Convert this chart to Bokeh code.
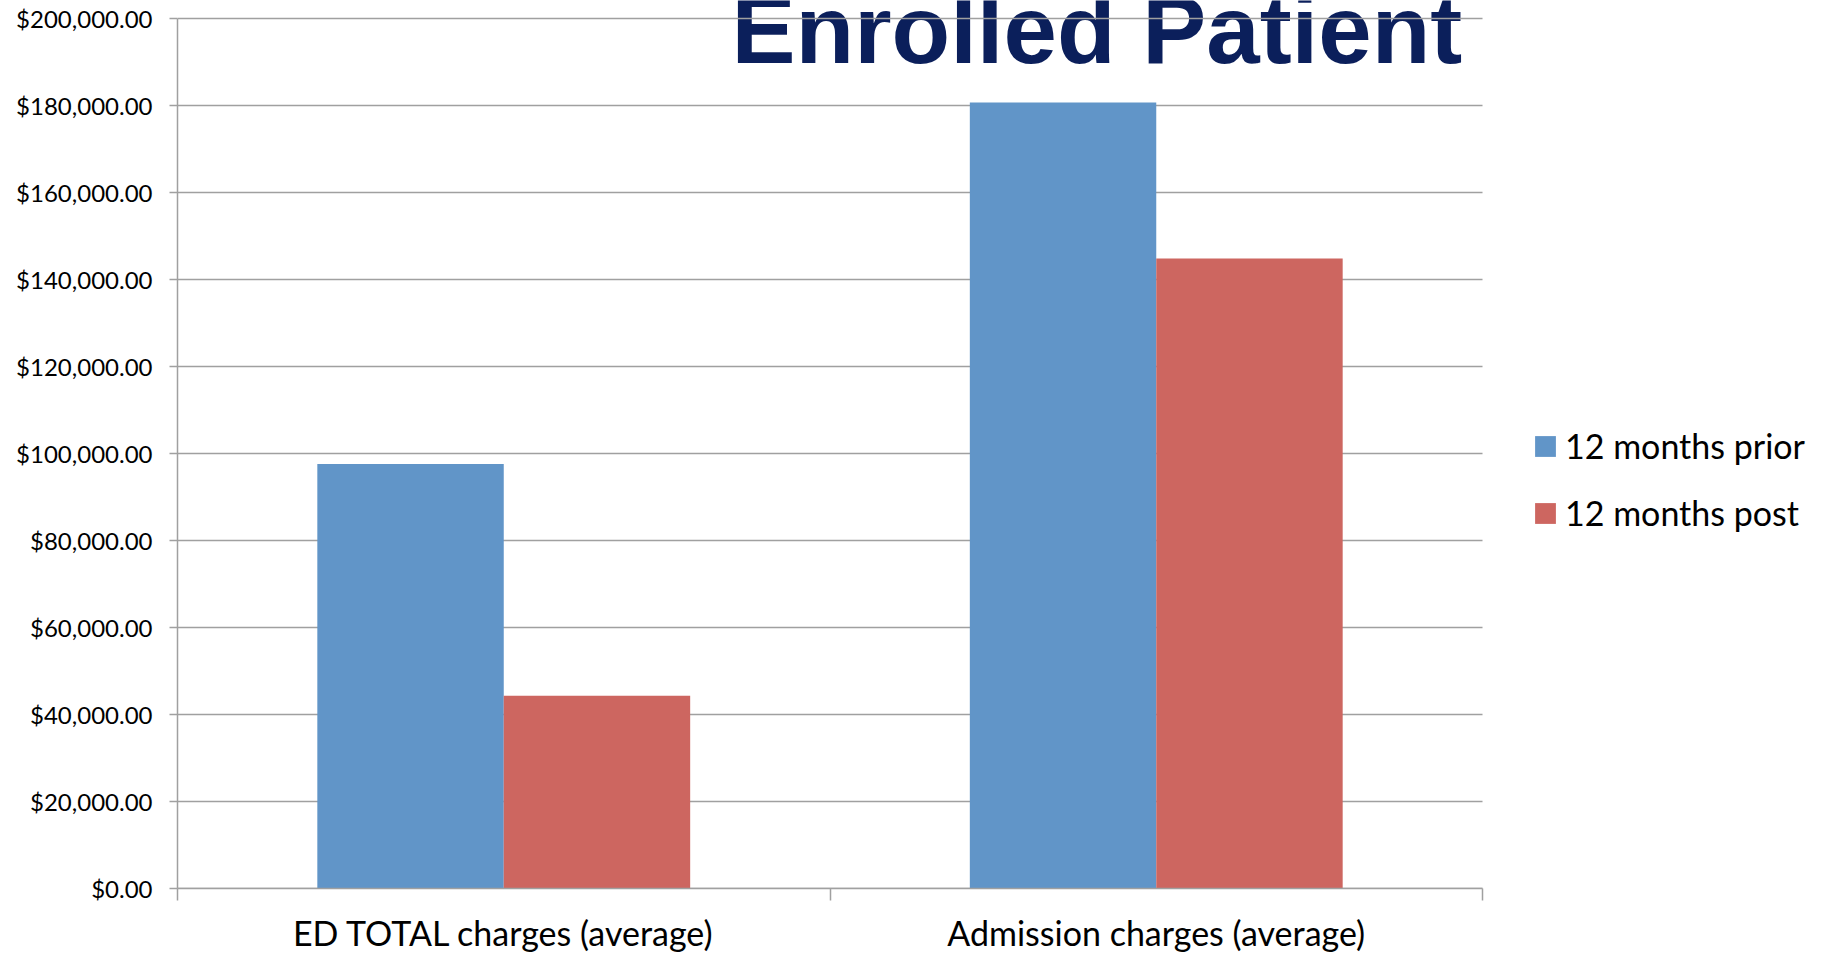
from bokeh.plotting import figure
from bokeh.models import (ColumnDataSource, FixedTicker, Label, Legend, LegendItem,
                          NumeralTickFormatter, Range1d)
from bokeh.transform import dodge
from bokeh.embed import file_html
from bokeh.resources import INLINE
import numpy as np

# --- data -------------------------------------------------------------
categories = ["ED TOTAL charges (average)", "Admission charges (average)"]
series_names = ["12 months prior", "12 months post"]
prior_values = [97600, 180700]
post_values = [44300, 144800]
y_tick_values = [0, 20000, 40000, 60000, 80000, 100000, 120000, 140000, 160000, 180000, 200000]
title_text = "Enrolled Patient"

# --- styling ----------------------------------------------------------
BLUE = "#6195C8"
RED = "#CD6660"
GRID = "#A0A0A0"
NAVY = "#0B1F5B"
FONT = "Lato"
BAR_W = 1 / 3.5  # two bars + 150% gap per category

W, H = 1829, 956
LEFT_BORDER = 177
BOTTOM_BORDER = 68
PLOT_W = 1305                        # width of the bar area
FRAME_W = W - LEFT_BORDER            # frame runs on to the right edge (room for the key)
FRAME_H = H - BOTTOM_BORDER          # frame runs up to the top edge of the canvas
HEAD_ROOM = 18                       # pixels between canvas top and the top gridline

n_cat = len(categories)
y_max = max(y_tick_values)
y_end = y_max * FRAME_H / (FRAME_H - HEAD_ROOM)
x_end = n_cat * FRAME_W / PLOT_W

x_center = np.arange(n_cat) + 0.5
src = ColumnDataSource(dict(x=x_center, prior=prior_values, post=post_values))

p = figure(width=W, height=H,
           x_range=Range1d(0, x_end),
           y_range=Range1d(min(y_tick_values), y_end),
           output_backend="svg", toolbar_location=None,
           min_border_left=LEFT_BORDER, min_border_right=0,
           min_border_top=0, min_border_bottom=BOTTOM_BORDER)
p.outline_line_color = None
p.background_fill_color = "white"
p.border_fill_color = "white"
p.xgrid.visible = False
p.ygrid.visible = False

# horizontal gridlines, limited to the bar area
p.segment(x0=0, x1=n_cat, y0=y_tick_values, y1=y_tick_values,
          line_color=GRID, line_width=1.5, level="underlay")

r_prior = p.vbar(x=dodge("x", -BAR_W / 2), top="prior", width=BAR_W, source=src,
                 fill_color=BLUE, line_color=None)
r_post = p.vbar(x=dodge("x", BAR_W / 2), top="post", width=BAR_W, source=src,
                fill_color=RED, line_color=None)

# y axis
p.yaxis.bounds = (min(y_tick_values), y_max)
p.yaxis.ticker = FixedTicker(ticks=y_tick_values, minor_ticks=[])
p.yaxis.formatter = NumeralTickFormatter(format="$0,0.00")
p.yaxis.major_label_text_font = FONT
p.yaxis.major_label_text_font_size = "24px"
p.yaxis.major_label_text_color = "black"
p.yaxis.major_label_standoff = 17
p.yaxis.major_tick_out = 8
p.yaxis.major_tick_in = 0
p.yaxis.major_tick_line_color = GRID
p.yaxis.major_tick_line_width = 1.5
p.yaxis.axis_line_color = GRID
p.yaxis.axis_line_width = 1.5

# x axis: labels at category centres, separator ticks at category edges
p.xaxis.bounds = (0, n_cat)
p.xaxis.ticker = FixedTicker(ticks=list(x_center), minor_ticks=list(range(n_cat + 1)))
p.xaxis.major_label_overrides = {float(c): name for c, name in zip(x_center, categories)}
p.xaxis.major_label_text_font = FONT
p.xaxis.major_label_text_font_size = "34px"
p.xaxis.major_label_text_color = "black"
p.xaxis.major_label_standoff = 11
p.xaxis.major_tick_out = 0
p.xaxis.major_tick_in = 0
p.xaxis.minor_tick_out = 12
p.xaxis.minor_tick_in = 0
p.xaxis.minor_tick_line_color = GRID
p.xaxis.minor_tick_line_width = 1.5
p.xaxis.axis_line_color = GRID
p.xaxis.axis_line_width = 1.5

# heading sitting behind the grid, running off the top edge
title = Label(x=554, y=FRAME_H - 29, x_units="screen", y_units="screen", text=title_text,
              text_font="Liberation Sans", text_font_style="bold",
              text_font_size="96px", text_color=NAVY, text_baseline="alphabetic",
              level="image")
p.add_layout(title)

legend = Legend(items=[LegendItem(label=series_names[0], renderers=[r_prior]),
                       LegendItem(label=series_names[1], renderers=[r_post])],
                location=(PLOT_W + 50, 355), orientation="vertical",
                label_text_font=FONT, label_text_font_size="34px",
                label_text_color="black", glyph_width=26, glyph_height=26,
                label_standoff=7, spacing=26, padding=0, margin=0,
                border_line_color=None, background_fill_alpha=0)
p.add_layout(legend)

open("out.html", "w").write(file_html(p, INLINE))
